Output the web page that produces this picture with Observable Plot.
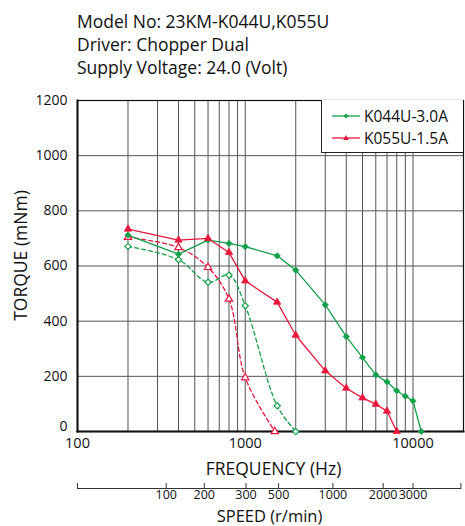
<!DOCTYPE html>
<html><head><meta charset="utf-8">
<script src="https://cdn.jsdelivr.net/npm/d3@7"></script>
<script src="https://cdn.jsdelivr.net/npm/@observablehq/plot@0.6"></script>
<style>
body{margin:0;background:#fff;font-family:"Open Sans",sans-serif;color:#111}
#wrap{position:relative;width:465px;height:526px;overflow:hidden}
#title{height:85px;box-sizing:border-box;padding:10px 0 0 77px;font-size:17.5px;line-height:23px}
#chart svg{display:block}
#legend{position:absolute;left:321px;top:100px;width:142px;height:53px;background:#fff;border-left:1px solid #222;border-bottom:1px solid #222;box-sizing:border-box}
.item{position:absolute;left:10px;height:20px;display:flex;align-items:center;font-size:15.5px;white-space:nowrap}
.item svg{margin-right:4px;display:block}
</style></head><body>
<div id="wrap">
<div id="title"></div>
<div id="chart"></div>
<div id="legend"></div>
</div>
<script>
// ---- text ----
const titleLines = ["Model No: 23KM-K044U,K055U", "Driver: Chopper Dual", "Supply Voltage: 24.0 (Volt)"];
const xLabel = "FREQUENCY (Hz)";
const speedLabel = "SPEED (r/min)";
const yLabel = "TORQUE (mNm)";
const seriesNames = ["K044U-3.0A", "K055U-1.5A"];
const seriesColors = ["#13a04a", "#e8173c"];

// ---- data (frequency Hz, torque mNm) ----
// K044U-3.0A, solid (pull-out)
const freq044Solid = [200, 400, 600, 800, 1000, 1550, 2000, 3000, 4000, 5000, 6000, 7000, 8000, 9000, 10000, 11200];
const torque044Solid = [712, 643, 694, 682, 670, 637, 585, 459, 344, 268, 205, 180, 148, 128, 111, 0];
// K055U-1.5A, solid (pull-out)
const freq055Solid = [200, 400, 600, 800, 1000, 1550, 2000, 3000, 4000, 5000, 6000, 7000, 8000];
const torque055Solid = [734, 694, 700, 649, 546, 469, 349, 220, 157, 122, 99, 74, 0];
// K044U-3.0A, dashed (pull-in)
const freq044Dashed = [200, 400, 600, 800, 1000, 1550, 2000];
const torque044Dashed = [671, 623, 541, 567, 456, 93, 0];
// K055U-1.5A, dashed (pull-in)
const freq055Dashed = [200, 400, 600, 800, 1000, 1500];
const torque055Dashed = [704, 667, 595, 480, 195, 0];

// ---- axes / grid ----
const xDomain = [100, 20000];
const yDomain = [0, 1200];
const freqTicks = [100, 1000, 10000];
const yTicks = [0, 200, 400, 600, 800, 1000, 1200];
const gridHz = [200, 300, 400, 500, 600, 700, 800, 900, 1000, 2000, 3000, 4000, 5000, 6000, 7000, 8000, 9000, 10000];
const gridTorque = [200, 400, 600, 800, 1000];
const speedTickLabels = ["100", "200", "300", "500", "1000", "2000", "3000"];
const speedTickHz = [338, 570, 1010, 1580, 3330, 6640, 10000];
const speedAxisEndsHz = [100, 19300];

const toRows = (f, t) => f.map((d, i) => ({f: d, t: t[i]}));
const s044Solid = toRows(freq044Solid, torque044Solid);
const s055Solid = toRows(freq055Solid, torque055Solid);
const s044Dashed = toRows(freq044Dashed, torque044Dashed);
const s055Dashed = toRows(freq055Dashed, torque055Dashed);
const speedRows = speedTickHz.map((h, i) => ({hz: h, label: speedTickLabels[i]}));

document.getElementById("title").innerHTML = titleLines.map(s => `<div>${s}</div>`).join("");

const [G, R] = seriesColors;
const gridStroke = "#555";
const tickUp = {draw(context, l) { context.moveTo(0, 0); context.lineTo(0, -l); }};

const chart = Plot.plot({
  width: 465,
  height: 441,
  marginTop: 15,
  marginRight: 2,
  marginBottom: 95,
  marginLeft: 77,
  style: {fontFamily: "'Open Sans', sans-serif", fontSize: "14px", color: "#111", background: "white", overflow: "visible"},
  x: {type: "log", domain: xDomain, label: null},
  y: {domain: yDomain, label: null},
  marks: [
    Plot.ruleX(gridHz, {stroke: gridStroke, strokeWidth: 1}),
    Plot.ruleY(gridTorque, {stroke: gridStroke, strokeWidth: 1}),
    Plot.frame({stroke: "#111", strokeWidth: 1.2}),
    Plot.frame({anchor: "left", stroke: "#111", strokeWidth: 2}),
    Plot.frame({anchor: "bottom", stroke: "#111", strokeWidth: 2}),
    // dashed (pull-in)
    Plot.line(s044Dashed, {x: "f", y: "t", stroke: G, strokeWidth: 1.3, strokeDasharray: "4,3", curve: "catmull-rom"}),
    Plot.line(s055Dashed, {x: "f", y: "t", stroke: R, strokeWidth: 1.3, strokeDasharray: "4,3", curve: "catmull-rom"}),
    // solid (pull-out)
    Plot.line(s044Solid, {x: "f", y: "t", stroke: G, strokeWidth: 1.3}),
    Plot.line(s055Solid, {x: "f", y: "t", stroke: R, strokeWidth: 1.3}),
    Plot.dot(s044Dashed, {x: "f", y: "t", symbol: "diamond2", r: 2.8, stroke: G, fill: "white", strokeWidth: 1.2}),
    Plot.dot(s055Dashed, {x: "f", y: "t", symbol: "triangle", r: 2.7, stroke: R, fill: "white", strokeWidth: 1.2}),
    Plot.dot(s044Solid, {x: "f", y: "t", symbol: "diamond2", r: 2.8, fill: G, stroke: G, strokeWidth: 0.8}),
    Plot.dot(s055Solid, {x: "f", y: "t", symbol: "triangle", r: 2.7, fill: R, stroke: R, strokeWidth: 0.8}),
    // axes
    Plot.axisY(yTicks.filter(d => d > 0), {tickSize: 0, tickPadding: 10, fontSize: 14, tickFormat: d => String(d), label: null}),
    Plot.axisY([0], {tickSize: 0, tickPadding: 10, fontSize: 14, dy: -5, tickFormat: d => String(d), label: null}),
    Plot.axisX(freqTicks, {anchor: "bottom", tickSize: 0, tickPadding: 6, fontSize: 14.5, tickFormat: d => String(d), label: null}),
    // speed axis
    Plot.frame({anchor: "bottom", dy: 57, insetRight: 3, stroke: "#333", strokeWidth: 1}),
    Plot.vector(speedTickHz.concat(speedAxisEndsHz), {x: d => d, frameAnchor: "bottom", dy: 57, length: 5, anchor: "start", shape: tickUp, stroke: "#333", strokeWidth: 1}),
    Plot.text(speedRows, {x: "hz", text: "label", frameAnchor: "bottom", lineAnchor: "top", textAnchor: "middle", dy: 59, fontSize: 12.5}),
    // axis titles
    Plot.text([xLabel], {text: d => d, frameAnchor: "bottom", lineAnchor: "middle", textAnchor: "middle", dx: 3, dy: 38, fontSize: 17.5}),
    Plot.text([speedLabel], {text: d => d, frameAnchor: "bottom", lineAnchor: "middle", textAnchor: "middle", dx: -1, dy: 85, fontSize: 16.5}),
    Plot.text([yLabel], {text: d => d, frameAnchor: "left", lineAnchor: "middle", textAnchor: "middle", dx: -56, dy: -10.5, rotate: -90, fontSize: 17.5})
  ]
});
document.getElementById("chart").appendChild(chart);

// legend
const legend = document.getElementById("legend");
const sym = (i) => i === 0
  ? `<path d="M14,2.4 L16.6,5 L14,7.6 L11.4,5 Z" fill="${seriesColors[i]}"/>`
  : `<path d="M14,2 L16.8,7 L11.2,7 Z" fill="${seriesColors[i]}"/>`;
legend.innerHTML = seriesNames.map((n, i) => `
  <div class="item" style="top:${i === 0 ? 6 : 28.3}px">
    <svg width="28" height="10"><line x1="0" x2="28" y1="5" y2="5" stroke="${seriesColors[i]}" stroke-width="1.3"/>${sym(i)}</svg>
    <span>${n}</span>
  </div>`).join("");
</script>
</body></html>
